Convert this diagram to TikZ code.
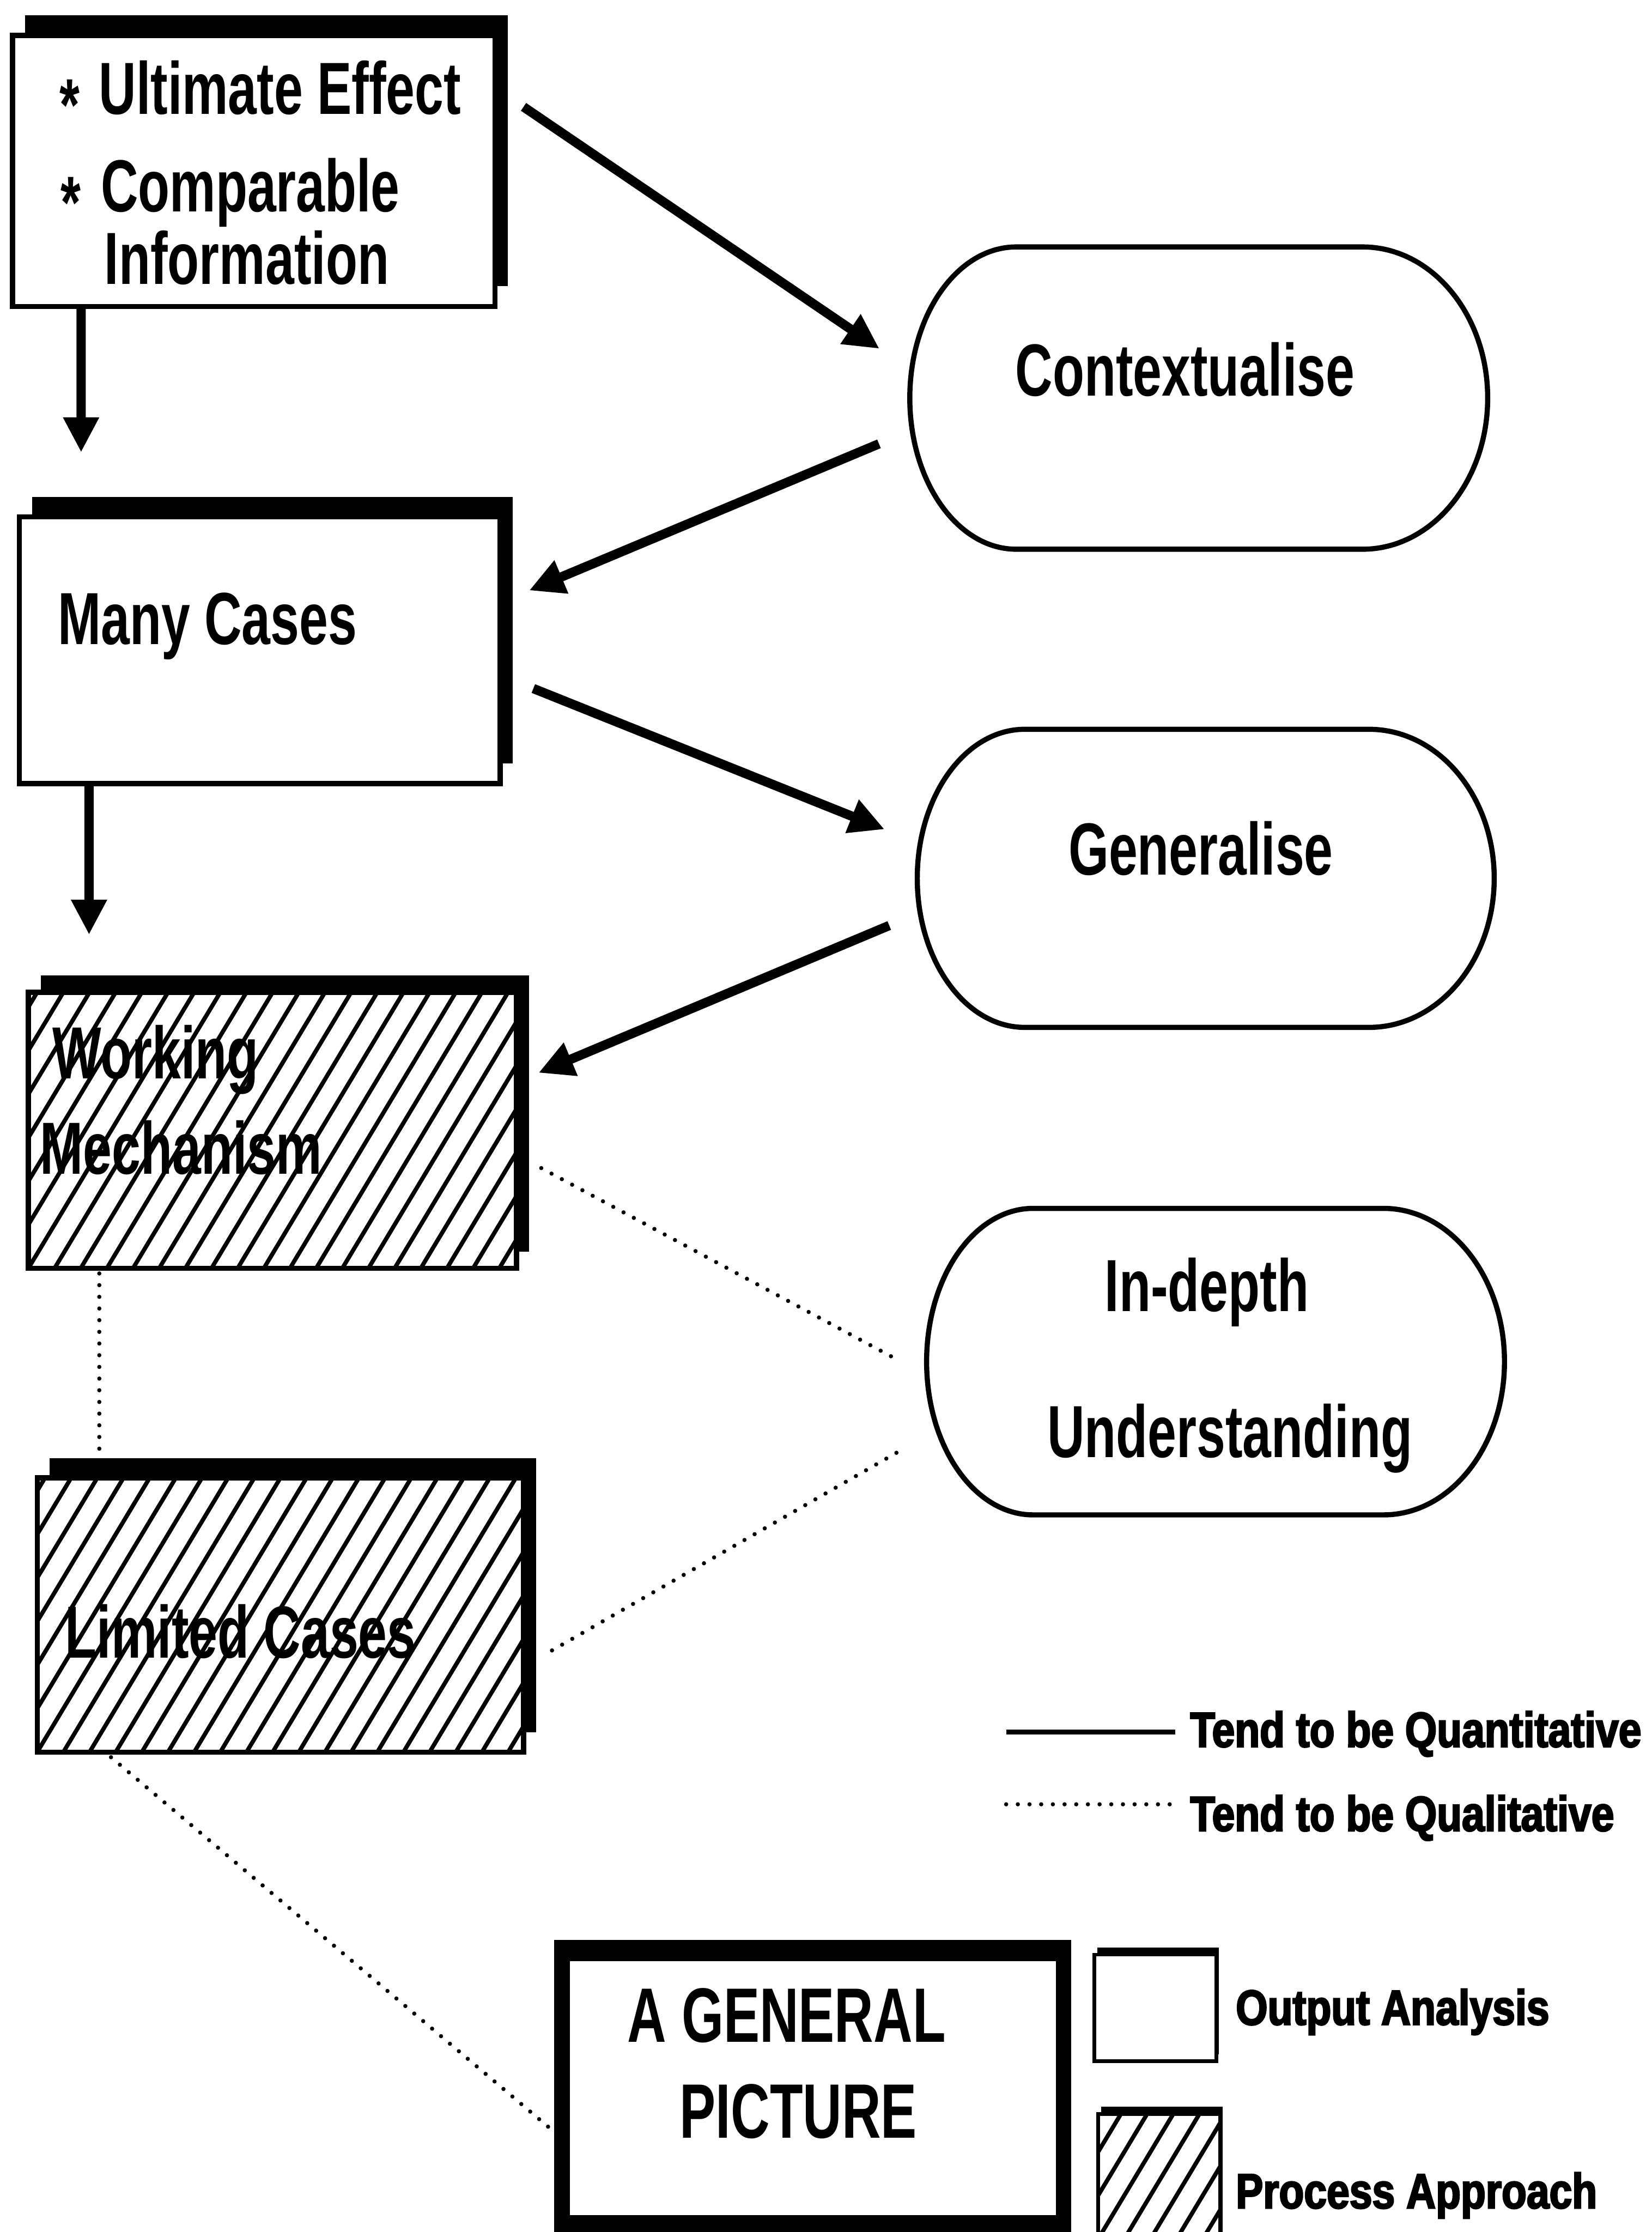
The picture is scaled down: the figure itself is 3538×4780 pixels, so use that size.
\documentclass[tikz,border=0pt]{standalone}
\usepackage{fontspec}
\newfontfamily\labfont{Liberation Sans}[FakeStretch=0.70]
\newfontfamily\legfont{Liberation Sans}[FakeStretch=0.83,FakeBold=3]
\usetikzlibrary{calc,arrows.meta,shadows}

% barrel outline around a rectangular node: #1 node, #2 left radius, #3 right radius, #4 half height
\newcommand\barrel[4]{%
  \draw[ovl] ($(#1.north west)+(#2,0)$)
    -- ($(#1.north east)+(-#3,0)$)
    .. controls +(0.5523*#3,0) and +(0,-0.5523*#4) .. (#1.east)
    .. controls +(0,0.5523*#4) and +(0.5523*#3,0) .. ($(#1.south east)+(-#3,0)$)
    -- ($(#1.south west)+(#2,0)$)
    .. controls +(-0.5523*#2,0) and +(0,0.5523*#4) .. (#1.west)
    .. controls +(0,-0.5523*#4) and +(-0.5523*#2,0) .. ($(#1.north west)+(#2,0)$) -- cycle;}

\begin{document}
\begin{tikzpicture}[x=0.01cm,y=-0.01cm,
  every node/.style={inner sep=0pt,outer sep=0pt},
  box/.style={draw,fill=white,line width=0.11cm,
    general shadow={fill=black,shadow xshift=0.27cm,shadow yshift=#1}},
  box/.default=0.43cm,
  keybox/.style={draw,fill=white,line width=0.08cm,
    general shadow={fill=black,shadow xshift=0.06cm,shadow yshift=0.15cm}},
  hatch/.style={path picture={
    \foreach \k in {-8,...,20}{
      \draw[line width=0.09cm] ([xshift=\k*0.56cm]path picture bounding box.south west) -- ++(59:9cm);}}},
  spot/.style={shape=rectangle},
  ovl/.style={draw,line width=0.11cm},
  lab/.style={font=\labfont\bfseries\fontsize{45}{54}\selectfont,anchor=base west},
  big/.style={font=\labfont\bfseries\fontsize{47}{56}\selectfont,anchor=base},
  mid/.style={font=\labfont\bfseries\fontsize{45}{54}\selectfont,anchor=base},
  leg/.style={font=\legfont\bfseries\fontsize{30}{36}\selectfont,anchor=base west},
  arr/.style={line width=0.2cm,-{Triangle[length=0.75cm,width=0.72cm]}},
  dots/.style={line width=0.09cm,line cap=round,dash pattern=on 0pt off 0.25cm}
]
\useasboundingbox (0,0) rectangle (3538,4780);
\fill[white] (0,0) rectangle (3538,4780);

% left column of boxes
\node[box,minimum width=10.33cm,minimum height=5.80cm] (b1) at (543.5,366) {};
\node[lab] (bu1) at (128,245) {\raisebox{-0.22em}{*}};
\node[lab] (t1) at (212,245) {Ultimate Effect};
\node[lab] (bu2) at (130,453) {\raisebox{-0.22em}{*}};
\node[lab] (t2) at (216,453) {Comparable};
\node[lab] (t3) at (224,609) {Information};

\node[box,minimum width=10.29cm,minimum height=5.71cm] (mc) at (556.5,1392.5) {};
\node[lab] (tmc) at (124,1380) {Many Cases};

\node[box=0.36cm,hatch,minimum width=10.45cm,minimum height=5.91cm] (wm) at (583.5,2420.5) {};
\node[lab] (twm1) at (113,2310) {Working};
\node[lab] (twm2) at (86,2514) {Mechanism};

\node[box=0.42cm,hatch,minimum width=10.41cm,minimum height=5.87cm] (lc) at (600.5,3458.5) {};
\node[lab] (tlc) at (140,3551) {Limited Cases};

% final box with heavy frame
\fill (1187,4155) rectangle (2294,4820);
\node[fill=white,minimum width=10.40cm,minimum height=5.44cm] (gp) at (1741,4472) {};
\node[big] (tgp1) at (1685,4373) {A GENERAL};
\node[big] (tgp2) at (1710,4579) {PICTURE};

% right column of rounded steps
\node[spot,minimum width=12.37cm,minimum height=6.47cm] (ctx) at (2567.5,852.5) {};
\barrel{ctx}{228}{268}{323.5}
\node[mid] (tctx) at (2538,848) {Contextualise};

\node[spot,minimum width=12.35cm,minimum height=6.38cm] (gen) at (2582.5,1881) {};
\barrel{gen}{230}{268}{319}
\node[mid] (tgen) at (2572,1874) {Generalise};

\node[spot,minimum width=12.37cm,minimum height=6.56cm] (ind) at (2603.5,2916) {};
\barrel{ind}{228}{259}{328}
\node[mid] (tind1) at (2585,2808) {In-depth};
\node[mid] (tind2) at (2634,3121) {Understanding};

% solid connectors
\draw[arr] ($(b1.north east)+(61,153)$) -- ($(ctx.north west)+(-65,218)$);
\draw[arr] ($(b1.south west)+(147,0)$) -- ($(mc.north west)+(132,-138)$);
\draw[arr] ($(ctx.west)+(-66,98)$) -- ($(mc.east)+(62,-128)$);
\draw[arr] ($(mc.east)+(71,82)$) -- ($(gen.west)+(-70,-105)$);
\draw[arr] ($(mc.south west)+(149,0)$) -- ($(wm.north west)+(130,-123)$);
\draw[arr] ($(gen.west)+(-60,101)$) -- ($(wm.east)+(47,-123)$);

% dotted connectors
\draw[dots] ($(wm.east)+(53,81)$) -- ($(ind.west)+(-68,-7)$);
\draw[dots] ($(wm.south west)+(152,11)$) -- ($(lc.north west)+(133,-33)$);
\draw[dots] ($(lc.east)+(61,76)$) -- ($(ind.west)+(-59,192)$);
\draw[dots] ($(lc.south west)+(158,11)$) -- ($(gp.west)+(-39,89)$);

% key
\node[leg] (kq) at (2549,3741) {Tend to be Quantitative};
\draw[line width=0.11cm] ($(kq.base west)+(-394,-32)$) -- ($(kq.base west)+(-32,-32)$);
\node[leg] (kl) at (2549,3921) {Tend to be Qualitative};
\draw[dots] ($(kl.base west)+(-394,-57)$) -- ($(kl.base west)+(-36,-57)$);

\node[keybox,minimum width=2.61cm,minimum height=2.28cm] (ko) at (2474.5,4300) {};
\node[leg] (tko) at (2647,4336) {Output Analysis};
\node[keybox,hatch,minimum width=2.61cm,minimum height=2.68cm] (kp) at (2482.5,4661) {};
\node[leg] (tkp) at (2647,4729) {Process Approach};
\end{tikzpicture}
\end{document}
